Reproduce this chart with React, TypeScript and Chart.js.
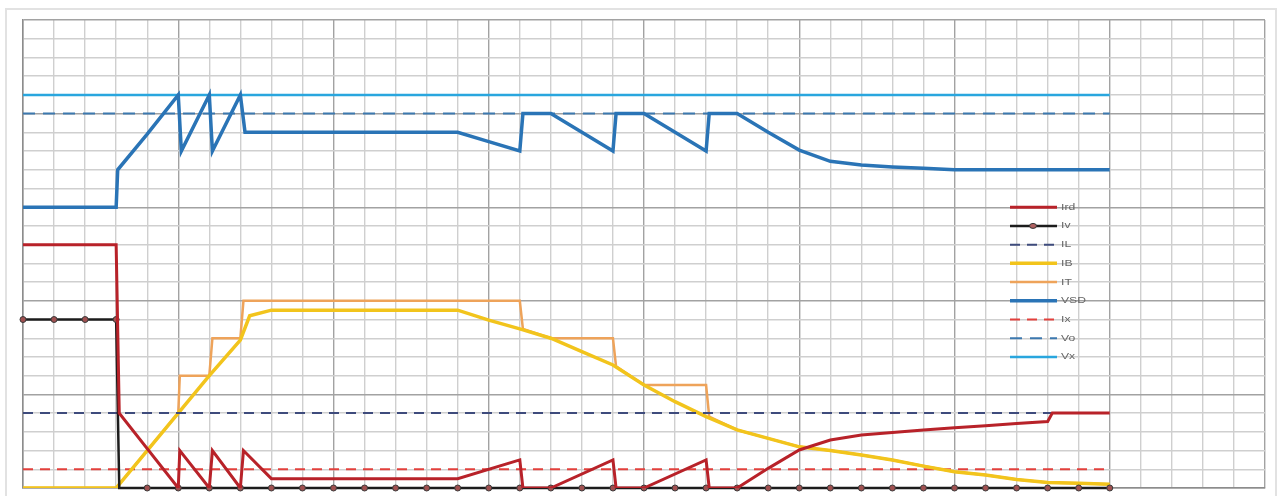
import React, { useEffect, useRef } from "react";
import { Chart, registerables } from "chart.js";

Chart.register(...registerables);

// ---- data (x in grid columns, y in grid rows) ----
const vxX = [0, 35];
const vxY = [21, 21];

const voX = [0, 35];
const voY = [20, 20];

const ilX = [0, 35];
const ilY = [4, 4];

const ixX = [0, 35];
const ixY = [1, 1];

const vsdX = [0, 3, 3.05, 4, 5, 5.1, 6, 6.1, 7, 7.15, 14, 15, 16, 16.1, 17, 18, 19, 19.1, 20, 21, 22, 22.1, 23, 24, 25, 26, 27, 28, 29, 30, 35];
const vsdY = [15, 15, 17, 18.9, 21, 18, 21, 18, 21, 19, 19, 18.5, 18, 20, 20, 19, 18, 20, 20, 19, 18, 20, 20, 19, 18.05, 17.45, 17.25, 17.15, 17.08, 17, 17];

const irdX = [0, 3, 3.1, 5, 5.05, 6, 6.1, 7, 7.1, 8, 14, 16, 16.1, 17, 19, 19.1, 20, 22, 22.1, 23, 24, 25, 26, 27, 28, 29, 30, 31, 32, 33, 33.15, 35];
const irdY = [13, 13, 4, 0, 2, 0, 2, 0, 2, 0.5, 0.5, 1.5, 0, 0, 1.5, 0, 0, 1.5, 0, 0, 1.05, 2.03, 2.56, 2.83, 2.97, 3.1, 3.22, 3.33, 3.45, 3.55, 4, 4];

const ivX = [0, 1, 2, 3, 3.1, 4, 5, 6, 7, 8, 9, 10, 11, 12, 13, 14, 15, 16, 17, 18, 19, 20, 21, 22, 23, 24, 25, 26, 27, 28, 29, 30, 31, 32, 33, 34, 35];
const ivY = [9, 9, 9, 9, 0, 0, 0, 0, 0, 0, 0, 0, 0, 0, 0, 0, 0, 0, 0, 0, 0, 0, 0, 0, 0, 0, 0, 0, 0, 0, 0, 0, 0, 0, 0, 0, 0];

const ibX = [0, 3, 4, 5, 6, 7, 7.3, 8, 14, 15, 16, 17, 18, 19, 20, 21, 22, 23, 24, 25, 26, 27, 28, 29, 30, 31, 32, 33, 34, 35];
const ibY = [0, 0, 2, 4, 6, 7.9, 9.2, 9.5, 9.5, 8.97, 8.5, 8.0, 7.28, 6.57, 5.5, 4.61, 3.81, 3.1, 2.65, 2.2, 2.0, 1.76, 1.5, 1.17, 0.87, 0.69, 0.46, 0.3, 0.25, 0.2];

const itX = [0, 3, 4, 5, 5.05, 6, 6.1, 7, 7.1, 16, 16.1, 17, 19, 19.1, 20, 22, 22.1, 23, 24, 25, 26, 27, 28, 29, 30, 31, 32, 33, 34, 35];
const itY = [0, 0, 2, 4, 6, 6, 8, 8, 10, 10, 8.5, 8.0, 8, 6.5, 5.5, 5.5, 3.81, 3.1, 2.65, 2.2, 2.0, 1.76, 1.5, 1.17, 0.87, 0.69, 0.46, 0.3, 0.25, 0.2];

const legendLabels = ["Ird", "Iv", "IL", "IB", "IT", "VSD", "Ix", "Vo", "Vx"];

const X_MAX = 40;
const Y_MAX = 25;
const LEGEND_TOP_ROW = 15;

const pts = (xs: number[], ys: number[]) => xs.map((x, i) => ({ x, y: ys[i] }));

const legendPlugin = {
  id: "sideLegend",
  afterDatasetsDraw(chart: any) {
    const { ctx } = chart;
    const ys = chart.scales.y;
    chart.data.datasets.forEach((ds: any, i: number) => {
      const y = ys.getPixelForValue(LEGEND_TOP_ROW - i);
      ctx.save();
      ctx.strokeStyle = ds.borderColor;
      ctx.lineWidth = ds.borderWidth;
      ctx.setLineDash(ds.borderDash || []);
      ctx.beginPath();
      ctx.moveTo(1010, y);
      ctx.lineTo(1057, y);
      ctx.stroke();
      ctx.setLineDash([]);
      if (ds.label === "Iv") {
        ctx.fillStyle = "#b06060";
        ctx.strokeStyle = "#333";
        ctx.lineWidth = 1;
        ctx.beginPath();
        ctx.ellipse(1033, y, 3.5, 2.5, 0, 0, Math.PI * 2);
        ctx.fill();
        ctx.stroke();
      }
      ctx.translate(1061, y);
      ctx.scale(1.35, 1);
      ctx.fillStyle = "#666";
      ctx.font = '9px "Liberation Sans", Arial, sans-serif';
      ctx.textBaseline = "middle";
      ctx.fillText(ds.label, 0, 0);
      ctx.restore();
    });
  },
};

export default function App() {
  const ref = useRef<HTMLCanvasElement | null>(null);

  useEffect(() => {
    if (!ref.current) return;
    const gridColor = (c: any) => (c.tick && c.tick.value % 5 === 0 ? "#a2a2a2" : "#cfcfcf");
    const chart = new Chart(ref.current, {
      type: "line",
      data: {
        datasets: [
          { label: legendLabels[0], data: pts(irdX, irdY), borderColor: "#b82229", borderWidth: 3, pointRadius: 0 },
          {
            label: legendLabels[1],
            data: pts(ivX, ivY),
            borderColor: "#1c1c1c",
            borderWidth: 2.5,
            clip: 5,
            pointRadius: (c: any) => (Number.isInteger(ivX[c.dataIndex]) ? 3 : 0),
            pointStyle: "circle",
            pointBackgroundColor: "#a05050",
            pointBorderColor: "#3a3a3a",
            pointBorderWidth: 1,
          },
          { label: legendLabels[2], data: pts(ilX, ilY), borderColor: "#3e4b7c", borderWidth: 2, borderDash: [10, 7], pointRadius: 0 },
          { label: legendLabels[3], data: pts(ibX, ibY), borderColor: "#f2c41c", borderWidth: 3.5, pointRadius: 0 },
          { label: legendLabels[4], data: pts(itX, itY), borderColor: "#eea35a", borderWidth: 2.5, pointRadius: 0 },
          { label: legendLabels[5], data: pts(vsdX, vsdY), borderColor: "#2a74b6", borderWidth: 3.5, pointRadius: 0 },
          { label: legendLabels[6], data: pts(ixX, ixY), borderColor: "#e2403c", borderWidth: 2, borderDash: [10, 7], pointRadius: 0 },
          { label: legendLabels[7], data: pts(voX, voY), borderColor: "#3c78ae", borderWidth: 2, borderDash: [12, 8], pointRadius: 0 },
          { label: legendLabels[8], data: pts(vxX, vxY), borderColor: "#29a6de", borderWidth: 2.5, pointRadius: 0 },
        ],
      },
      options: {
        animation: false,
        responsive: false,
        devicePixelRatio: 1,
        layout: { padding: { left: 23, top: 20, right: 17, bottom: 8 } },
        elements: { line: { tension: 0, fill: false } },
        plugins: { legend: { display: false }, tooltip: { enabled: false }, title: { display: false } },
        scales: {
          x: {
            type: "linear",
            min: 0,
            max: X_MAX,
            ticks: { display: false, stepSize: 1, maxTicksLimit: 100, autoSkip: false },
            grid: { color: gridColor, lineWidth: 1.4, drawTicks: false, tickLength: 0 },
            border: { display: true, color: "#8c8c8c", width: 1.5 },
          },
          y: {
            type: "linear",
            min: 0,
            max: Y_MAX,
            ticks: { display: false, stepSize: 1, maxTicksLimit: 100, autoSkip: false },
            grid: { color: gridColor, lineWidth: 1.4, drawTicks: false, tickLength: 0 },
            border: { display: true, color: "#8c8c8c", width: 1.5 },
          },
        },
      },
      plugins: [legendPlugin],
    } as any);
    return () => chart.destroy();
  }, []);

  return (
    <div style={{ position: "absolute", left: 0, top: 0, width: 1282, height: 496, background: "#fff", overflow: "hidden" }}>
      <div
        style={{
          position: "absolute",
          left: 5,
          top: 8,
          width: 1272,
          height: 500,
          border: "2px solid #e2e2e2",
          boxSizing: "border-box",
        }}
      />
      <canvas ref={ref} width={1282} height={496} style={{ position: "absolute", left: 0, top: 0, display: "block" }} />
    </div>
  );
}
